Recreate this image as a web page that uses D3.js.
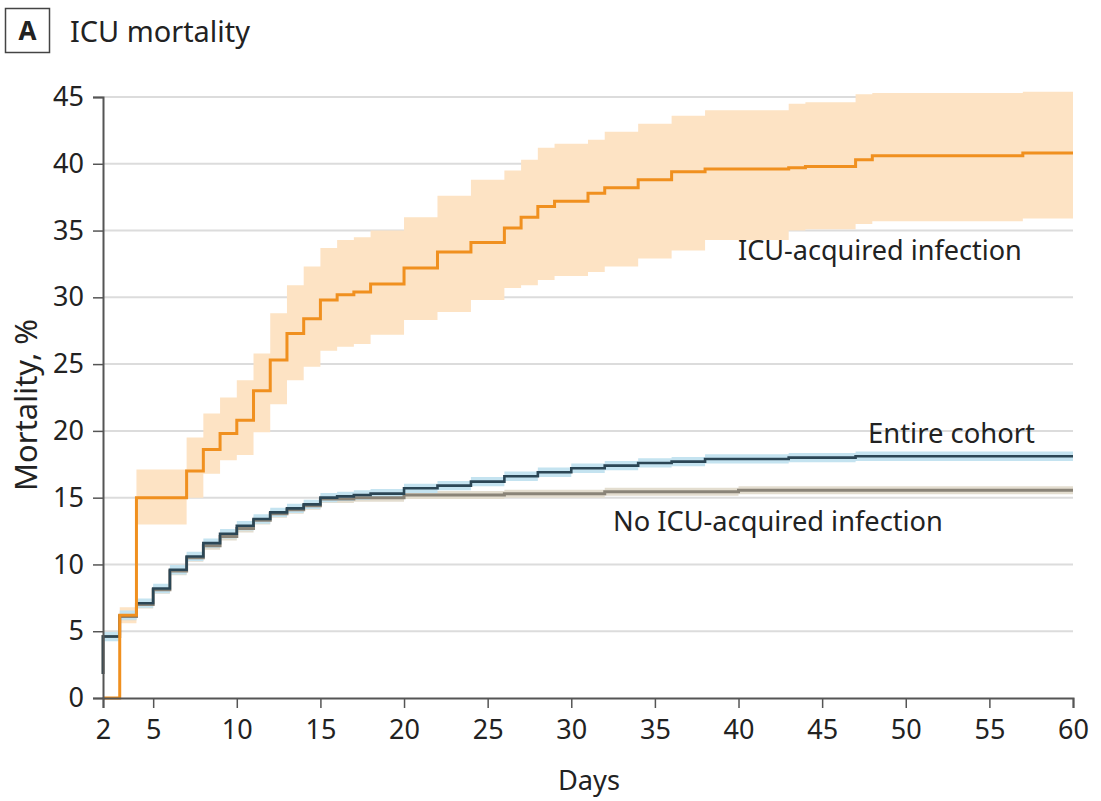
<!DOCTYPE html>
<html><head><meta charset="utf-8">
<script src="https://cdn.jsdelivr.net/npm/d3@7"></script>
<style>
body{margin:0;background:#fff;}
text{font-family:"Noto Sans","Open Sans",sans-serif;fill:#222;}
</style></head><body>
<svg id="c" width="1101" height="801"></svg>
<script>
// ---- data ----
const xTicks = [2,5,10,15,20,25,30,35,40,45,50,55,60];
const yTicks = [0,5,10,15,20,25,30,35,40,45];

// ICU-acquired infection
const infDays  = [2,3,4,7,8,9,10,11,12,13,14,15,16,17,18,20,22,24,26,27,28,29,31,32,34,36,38,43,44,47,48,57,60];
const infVals  = [0,6.2,15.0,17.0,18.6,19.8,20.8,23.0,25.3,27.3,28.4,29.8,30.2,30.4,31.0,32.2,33.4,34.1,35.2,36.0,36.8,37.2,37.8,38.2,38.8,39.4,39.6,39.7,39.8,40.3,40.6,40.8,40.8];
const infLow   = [0,5.6,13.0,15.0,16.8,17.8,18.2,19.9,22.0,23.8,24.8,26.0,26.3,26.5,27.2,28.3,28.9,29.8,30.7,30.9,31.3,31.6,31.9,32.3,32.9,33.5,34.3,35.0,35.1,35.5,35.7,35.9,35.9];
const infHigh  = [0,6.8,17.1,19.5,21.3,22.5,23.8,25.8,28.8,30.9,32.3,33.7,34.3,34.5,35.0,36.0,37.6,38.8,39.5,40.3,41.2,41.5,41.8,42.4,43.0,43.6,44.0,44.5,44.6,45.2,45.3,45.4,45.4];

// Entire cohort
const allDays  = [2,2,3,4,5,6,7,8,9,10,11,12,13,14,15,16,17,18,20,22,24,26,28,30,32,34,36,38,43,47,60];
const allVals  = [1.8,4.6,6.2,7.1,8.2,9.6,10.6,11.6,12.3,12.9,13.4,13.9,14.2,14.5,15.0,15.1,15.2,15.3,15.7,15.9,16.2,16.6,16.9,17.2,17.4,17.6,17.7,17.9,18.0,18.1,18.1];

// No ICU-acquired infection
const noDays   = [2,2,3,4,5,6,7,8,9,10,11,12,13,14,15,17,20,26,32,40,60];
const noVals   = [1.8,4.6,6.1,7.0,8.1,9.5,10.5,11.4,12.1,12.7,13.3,13.8,14.1,14.4,14.9,15.0,15.2,15.3,15.45,15.55,15.55];

const allBand = 0.35, noBand = 0.3;

// ---- chart ----
const svg = d3.select("#c");
const x = d3.scaleLinear().domain([2,60]).range([103,1073]);
const y = d3.scaleLinear().domain([0,45]).range([698,97]);

function fit(sel, width){
  sel.style("font-size","100px");
  const w = sel.node().getComputedTextLength();
  sel.style("font-size",(100*width/w).toFixed(2)+"px");
  return sel;
}

// title
svg.append("rect").attr("x",5.5).attr("y",8.5).attr("width",44).attr("height",44)
  .attr("fill","none").attr("stroke","#444").attr("stroke-width",1.5);
svg.append("text").attr("x",27.5).attr("y",40).attr("text-anchor","middle")
  .style("font-size","26px").style("font-weight","bold").text("A");
fit(svg.append("text").attr("x",70).attr("y",42).text("ICU mortality"),180);

// gridlines
svg.append("g").selectAll("line").data(yTicks.filter(d=>d>0)).join("line")
  .attr("x1",x(2)).attr("x2",x(60)).attr("y1",d=>y(d)).attr("y2",d=>y(d))
  .attr("stroke","#dcdcdc").attr("stroke-width",2);

const mk = (ds, vs) => ds.map((d,i)=>({d, v:vs[i]}));
const inf = infDays.map((d,i)=>({d, v:infVals[i], lo:infLow[i], hi:infHigh[i]}));
const all = mk(allDays, allVals);
const no = mk(noDays, noVals);

const line = d3.line().curve(d3.curveStepAfter).x(p=>x(p.d)).y(p=>y(p.v));

// bands
svg.append("path").datum(inf)
  .attr("d", d3.area().curve(d3.curveStepAfter).x(p=>x(p.d)).y0(p=>y(p.lo)).y1(p=>y(p.hi)))
  .attr("fill","#fde3c4");
svg.append("path").datum(no)
  .attr("d", d3.area().curve(d3.curveStepAfter).x(p=>x(p.d)).y0(p=>y(p.v-noBand)).y1(p=>y(p.v+noBand)))
  .attr("fill","#e3ddcf");
svg.append("path").datum(all)
  .attr("d", d3.area().curve(d3.curveStepAfter).x(p=>x(p.d)).y0(p=>y(p.v-allBand)).y1(p=>y(p.v+allBand)))
  .attr("fill","#c4e3f0");

// lines
svg.append("path").datum(no).attr("d",line).attr("fill","none")
  .attr("stroke","#8a8478").attr("stroke-width",3);
svg.append("path").datum(all).attr("d",line).attr("fill","none")
  .attr("stroke","#2b4655").attr("stroke-width",2.6);
svg.append("path").datum(inf).attr("d",line).attr("fill","none")
  .attr("stroke","#f0901f").attr("stroke-width",3);

// axes
const yAxis = svg.append("g").attr("transform",`translate(${x(2)},0)`)
  .call(d3.axisLeft(y).tickValues(yTicks).tickSize(10).tickPadding(9));
const xAxis = svg.append("g").attr("transform",`translate(0,${y(0)})`)
  .call(d3.axisBottom(x).tickValues(xTicks).tickSize(10).tickPadding(12));
[yAxis,xAxis].forEach(g=>{
  g.select(".domain").attr("stroke","#555").attr("stroke-width",2);
  g.selectAll(".tick line").attr("stroke","#555").attr("stroke-width",1.5);
  g.selectAll(".tick text").style("font-size","27px").attr("fill","#222")
    .style("font-family",'"Noto Sans","Open Sans",sans-serif');
});

// axis titles
fit(svg.append("text").attr("transform","translate(37,405) rotate(-90)")
  .attr("text-anchor","middle").text("Mortality, %"),172);
fit(svg.append("text").attr("x",589).attr("y",790).attr("text-anchor","middle").text("Days"),62);

// series labels
fit(svg.append("text").attr("x",738).attr("y",260).text("ICU-acquired infection"),284);
fit(svg.append("text").attr("x",1035).attr("y",443).attr("text-anchor","end").text("Entire cohort"),167);
fit(svg.append("text").attr("x",613).attr("y",531).text("No ICU-acquired infection"),330);
</script></body></html>
